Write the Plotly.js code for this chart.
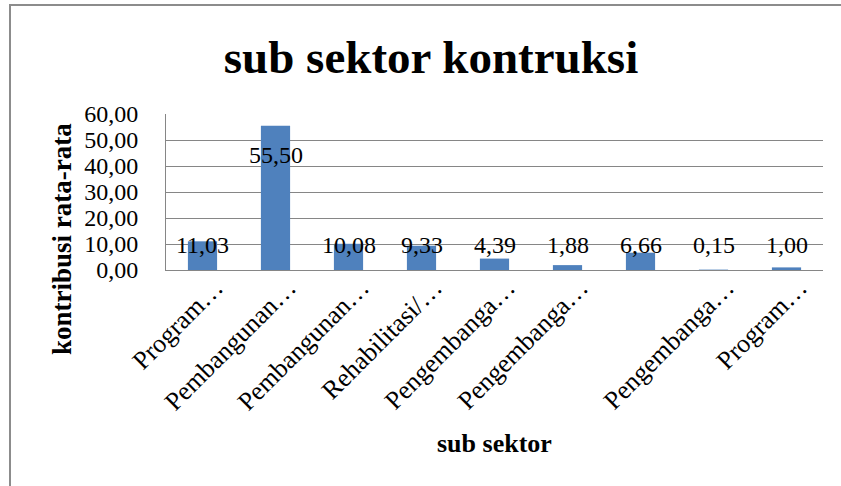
<!DOCTYPE html>
<html>
<head>
<meta charset="utf-8">
<script src="https://cdn.plot.ly/plotly-3.0.1.min.js"></script>
<style>
  html, body { margin: 0; padding: 0; background: #ffffff; overflow: hidden; width: 841px; height: 486px; }
  #wrap { position: relative; width: 841px; height: 486px; overflow: hidden; }
  #chart { position: absolute; left: 0; top: 0; width: 841px; height: 486px; }
  #frame { position: absolute; left: 9px; top: 4px; width: 832px; height: 482px;
           border-top: 2px solid #8c8c8c; border-left: 2px solid #8c8c8c;
           box-sizing: border-box; pointer-events: none; }
</style>
</head>
<body>
<div id="wrap">
  <div id="chart"></div>
  <div id="frame"></div>
</div>
<script>
// ---- data ----
const categories = ["Program…", "Pembangunan…", "Pembangunan…", "Rehabilitasi/…", "Pengembanga…", "Pengembanga…", "", "Pengembanga…", "Program…"];
const values = [11.03, 55.50, 10.08, 9.33, 4.39, 1.88, 6.66, 0.15, 1.00];
const yTicks = [0, 10, 20, 30, 40, 50, 60];
const chartTitle = "sub sektor kontruksi";
const xTitle = "sub sektor";
const yTitle = "kontribusi rata-rata";

const FONT = "Liberation Serif, Times New Roman, serif";
const idx = categories.map((_, i) => i);

const ML = 166, MR = 18, MT = 114, MB = 216, W = 841, H = 486;
const PW = W - ML - MR, PH = H - MT - MB;

const fmt = v => v.toFixed(2).replace('.', ',');

const labelAnnotations = values.map((v, i) => ({
  x: i, y: Math.max(v - 11.3, 9.6), xref: 'x', yref: 'y',
  text: fmt(v), showarrow: false, xanchor: 'center', yanchor: 'middle',
  font: { family: FONT, size: 24, color: '#000000' }
}));

const trace = {
  type: 'bar',
  x: idx,
  y: values,
  marker: { color: '#4F81BD', line: { width: 0 } },
  hoverinfo: 'skip'
};

const px2x = p => (p - ML) / PW;
const px2y = p => 1 - (p - MT) / PH;

const layout = {
  width: W, height: H,
  margin: { l: ML, r: MR, t: MT, b: MB, pad: 0 },
  paper_bgcolor: '#ffffff', plot_bgcolor: '#ffffff',
  separators: ',.',
  showlegend: false,
  bargap: 0.6,
  font: { family: FONT, size: 24, color: '#000000' },
  title: {
    text: '<b>' + chartTitle + '</b>',
    font: { family: FONT, size: 47, color: '#000000' },
    xref: 'container', yref: 'container',
    x: 431 / W, y: 1 - 57 / H, xanchor: 'center', yanchor: 'middle'
  },
  xaxis: {
    range: [-0.5, categories.length - 0.5],
    tickmode: 'array', tickvals: idx, ticktext: categories,
    tickangle: -45,
    showgrid: false, zeroline: false,
    showline: true, linecolor: '#868686', linewidth: 1,
    ticks: '', ticklabelstandoff: -9, ticklabelshift: 13,
    tickfont: { family: FONT, size: 26, color: '#000000' },
    fixedrange: true
  },
  yaxis: {
    range: [0, 60],
    tickmode: 'array', tickvals: yTicks, ticktext: yTicks.map(fmt),
    showgrid: true, gridcolor: '#868686', gridwidth: 1,
    zeroline: false,
    showline: true, linecolor: '#868686', linewidth: 1,
    ticks: '', ticklabelstandoff: 22,
    tickfont: { family: FONT, size: 24, color: '#000000' },
    fixedrange: true
  },
  annotations: labelAnnotations.concat([
    {
      text: '<b>' + yTitle + '</b>', xref: 'paper', yref: 'paper',
      x: px2x(62), y: px2y(239),
      textangle: -90, showarrow: false, xanchor: 'center', yanchor: 'middle',
      font: { family: FONT, size: 27, color: '#000000' }
    },
    {
      text: '<b>' + xTitle + '</b>', xref: 'paper', yref: 'paper',
      x: px2x(494), y: px2y(443),
      showarrow: false, xanchor: 'center', yanchor: 'middle',
      font: { family: FONT, size: 26, color: '#000000' }
    }
  ])
};

Plotly.newPlot('chart', [trace], layout, { displayModeBar: false, staticPlot: true });
</script>
</body>
</html>
